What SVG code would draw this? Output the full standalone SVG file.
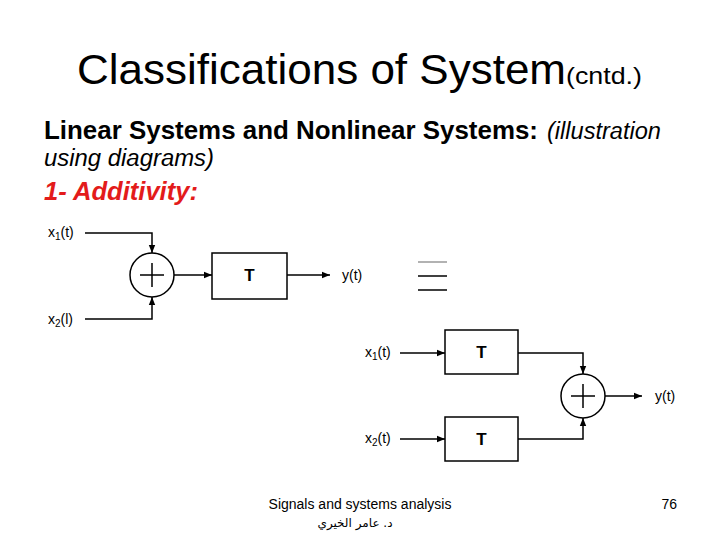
<svg xmlns="http://www.w3.org/2000/svg" width="720" height="540" viewBox="0 0 720 540">
<style>
text{font-family:"Liberation Sans",Arial,sans-serif;fill:#000}
.ln{fill:none;stroke:#000;stroke-width:1.5}
.box{fill:#fff;stroke:#000;stroke-width:1.5}
.lbl{font-size:14px}
.sub{font-size:10px}
.T{font-size:17px;font-weight:bold}
</style>
<defs>
<marker id="ar" viewBox="0 0 10 10" refX="10" refY="5" markerWidth="11" markerHeight="8" markerUnits="userSpaceOnUse" orient="auto">
<path d="M0,1 L10,5 L0,9 Z" fill="#000"/>
</marker>
</defs>
<rect width="720" height="540" fill="#fff"/>
<text x="77" y="84" font-size="43" textLength="489" lengthAdjust="spacingAndGlyphs">Classifications of System</text>
<text x="566" y="84" font-size="24" textLength="76" lengthAdjust="spacingAndGlyphs">(cntd.)</text>
<text x="44" y="139" font-size="25" font-weight="bold" textLength="494" lengthAdjust="spacingAndGlyphs">Linear Systems and Nonlinear Systems:</text>
<text x="547" y="139" font-size="23" font-style="italic" textLength="114" lengthAdjust="spacingAndGlyphs">(illustration</text>
<text x="44" y="166" font-size="23.5" font-style="italic" textLength="170" lengthAdjust="spacingAndGlyphs">using diagrams)</text>
<text x="44" y="200" font-size="25.5" font-weight="bold" font-style="italic" style="fill:#e31b1b" textLength="154" lengthAdjust="spacingAndGlyphs">1- Additivity:</text>

<g id="connectors">
<path class="ln" d="M85,233 H152 V253" marker-end="url(#ar)"/>
<path class="ln" d="M85,319 H152 V297" marker-end="url(#ar)"/>
<path class="ln" d="M174,275 H212" marker-end="url(#ar)"/>
<path class="ln" d="M287,275 H330" marker-end="url(#ar)"/>
<path class="ln" d="M400,353 H445" marker-end="url(#ar)"/>
<path class="ln" d="M400,439 H445" marker-end="url(#ar)"/>
<path class="ln" d="M518,353 H583 V374" marker-end="url(#ar)"/>
<path class="ln" d="M518,439 H583 V418" marker-end="url(#ar)"/>
<path class="ln" d="M605,396 H642" marker-end="url(#ar)"/>
</g>

<g id="x1a"><text class="lbl" x="48" y="237">x<tspan class="sub" dy="3">1</tspan><tspan dy="-3">(t)</tspan></text></g>
<g id="x2a"><text class="lbl" x="48" y="324">x<tspan class="sub" dy="3">2</tspan><tspan dy="-3">(l)</tspan></text></g>
<g id="sum1">
<circle class="box" cx="152" cy="275" r="22"/>
<path class="ln" d="M140,275 H164 M152,263 V287"/>
</g>
<g id="T1"><rect class="box" x="212" y="253" width="75" height="46"/><text class="T" x="249.5" y="281" text-anchor="middle">T</text></g>
<g id="ya"><text class="lbl" x="342" y="280">y(t)</text></g>

<g id="equiv">
<line x1="418" y1="262" x2="447" y2="262" stroke="#999" stroke-width="1.5"/>
<line x1="418" y1="276" x2="447" y2="276" stroke="#000" stroke-width="1.5"/>
<line x1="418" y1="290" x2="447" y2="290" stroke="#000" stroke-width="1.5"/>
</g>

<g id="x1b"><text class="lbl" x="365" y="357">x<tspan class="sub" dy="3">1</tspan><tspan dy="-3">(t)</tspan></text></g>
<g id="x2b"><text class="lbl" x="365" y="443">x<tspan class="sub" dy="3">2</tspan><tspan dy="-3">(t)</tspan></text></g>
<g id="T2"><rect class="box" x="445" y="330" width="73" height="44"/><text class="T" x="481.5" y="358" text-anchor="middle">T</text></g>
<g id="T3"><rect class="box" x="445" y="417" width="73" height="44"/><text class="T" x="481.5" y="445" text-anchor="middle">T</text></g>
<g id="sum2">
<circle class="box" cx="583" cy="396" r="22"/>
<path class="ln" d="M571,396 H595 M583,384 V408"/>
</g>
<g id="yb"><text class="lbl" x="655" y="401">y(t)</text></g>

<text x="360" y="509" font-size="14" text-anchor="middle">Signals and systems analysis</text>
<text x="355" y="527" font-size="12" text-anchor="middle" style="font-family:'DejaVu Sans','Noto Sans',sans-serif">د. عامر الخيري</text>
<text x="677" y="509" font-size="14" text-anchor="end">76</text>
</svg>
